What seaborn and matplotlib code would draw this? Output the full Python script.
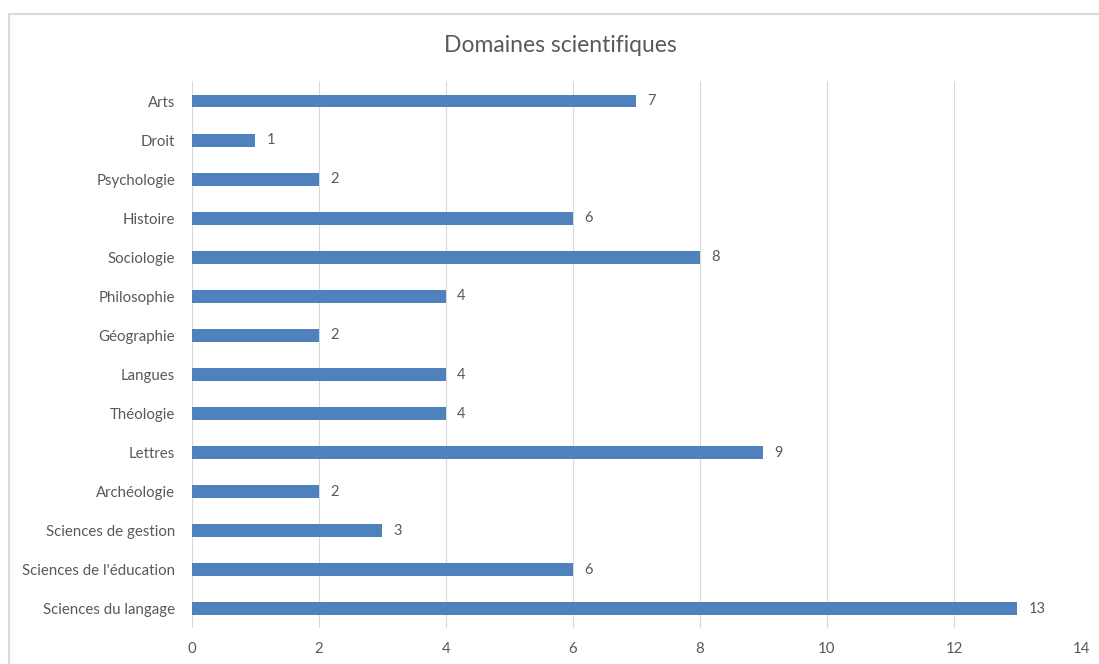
import pandas as pd
import seaborn as sns
import matplotlib.pyplot as plt
from matplotlib.patches import Rectangle

# --- données ---
domaines = ['Arts', 'Droit', 'Psychologie', 'Histoire', 'Sociologie', 'Philosophie',
            'Géographie', 'Langues', 'Théologie', 'Lettres', 'Archéologie',
            'Sciences de gestion', "Sciences de l'éducation", 'Sciences du langage']
effectifs = [7, 1, 2, 6, 8, 4, 2, 4, 4, 9, 2, 3, 6, 13]
ticks_x = [0, 2, 4, 6, 8, 10, 12, 14]

df = pd.DataFrame({'domaine': domaines, 'n': effectifs})

sns.set_theme(style='white')
plt.rcParams['font.family'] = ['Lato', 'DejaVu Sans']

gris = '#595959'
bleu = '#4f81bd'

fig = plt.figure(figsize=(10.99, 6.64), dpi=100)
ax = fig.add_axes([0.1747, 0.0535, 0.8089, 0.8238])

sns.barplot(data=df, x='n', y='domaine', color=bleu, width=0.33, ax=ax,
            saturation=1, edgecolor='none')

for i, v in enumerate(effectifs):
    ax.annotate(str(v), (v, i), xytext=(8, 0), textcoords='offset points',
                va='center', ha='left', fontsize=10.5, color=gris)

ax.set_xlim(0, 14)
ax.set_xticks(ticks_x)
ax.grid(axis='x', color='#d9d9d9', linewidth=0.8)
ax.set_axisbelow(True)
for s in ax.spines.values():
    s.set_visible(False)
ax.tick_params(axis='both', length=0, labelsize=10.8, labelcolor=gris)
ax.tick_params(axis='x', pad=10)
ax.tick_params(axis='y', pad=12)
ax.set_xlabel('')
ax.set_ylabel('')

fig.text(0.51, 0.932, 'Domaines scientifiques', ha='center', va='center',
         fontsize=16.5, color=gris)

# cadre du graphique
fig.patches.append(Rectangle((9 / 1099, -0.1), 1.2, 1.1 - 14 / 664,
                             transform=fig.transFigure, fill=False,
                             edgecolor='#d9d9d9', linewidth=1.5))

fig.savefig('out.png', dpi=100)
